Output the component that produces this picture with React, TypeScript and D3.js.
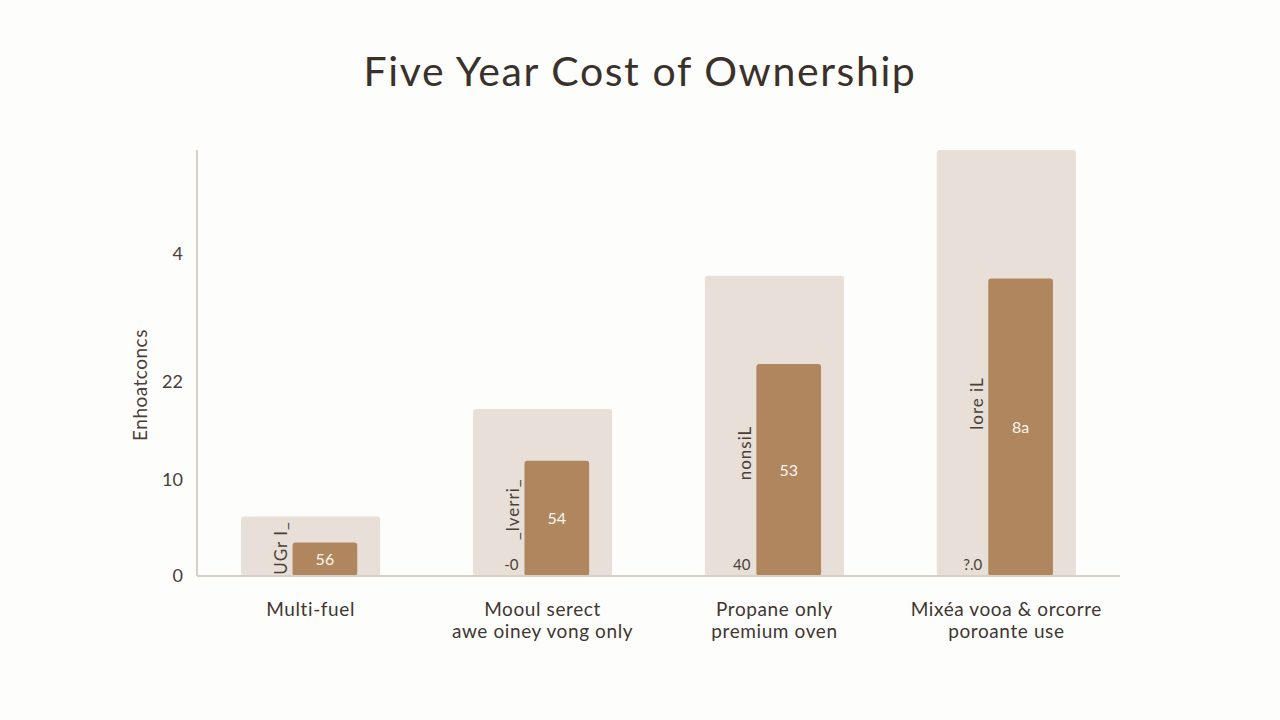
import { useEffect, useRef } from "react";
import * as d3 from "d3";

// categories (two label lines each)
const categories = ["Multi-fuel", "Mooul serect", "Propane only", "Mixéa vooa & orcorre"];
const categorySub = ["", "awe oiney vong only", "premium oven", "poroante use"];
// series values
const totalCost = [6.2, 17.4, 31.3, 44.4];
const upfrontCost = [3.5, 12.0, 22.1, 31.0];
const valueLabels = ["56", "54", "53", "8a"];
const sideLabels = ["UGr I_", "_lverri_", "nonsiL", "lore iL"];
const baseLabels = ["", "-0", "40", "?.0"];
// y ticks (positions and printed text)
const yTickValues = [0, 10, 20.2, 33.6];
const yTickLabels = ["0", "10", "22", "4"];

const W = 1280;
const H = 720;
const FONT = "Lato, 'Noto Sans', sans-serif";

export default function App() {
  const svgRef = useRef<SVGSVGElement>(null);

  useEffect(() => {
    const svgEl = svgRef.current;
    if (!svgEl) return;
    const svg = d3.select(svgEl);
    svg.selectAll("*").remove();

    const margin = { top: 150, right: 160, bottom: 144, left: 197 };
    const innerW = W - margin.left - margin.right;
    const innerH = H - margin.top - margin.bottom;

    svg.append("rect").attr("width", W).attr("height", H).attr("fill", "#fdfdfc");

    // title
    svg
      .append("text")
      .attr("x", W / 2)
      .attr("y", 86)
      .attr("text-anchor", "middle")
      .attr("font-family", FONT)
      .attr("font-size", 41)
      .attr("letter-spacing", 1.6)
      .attr("fill", "#3a312b")
      .text("Five Year Cost of Ownership");

    const g = svg.append("g").attr("transform", `translate(${margin.left},${margin.top})`);

    const x = d3
      .scaleBand<string>()
      .domain(categories)
      .range([0, innerW])
      .paddingInner(0.4)
      .paddingOuter(0.19);
    const y = d3.scaleLinear().domain([0, 44.4]).range([innerH, 0]);

    // background (total) bars
    g.selectAll("rect.total")
      .data(categories)
      .join("rect")
      .attr("class", "total")
      .attr("x", (d) => x(d)!)
      .attr("y", (_, i) => y(totalCost[i]))
      .attr("width", x.bandwidth())
      .attr("height", (_, i) => y(0) - y(totalCost[i]))
      .attr("rx", 3)
      .attr("fill", "#e8e0d8");

    // foreground bars
    const fgX = (d: string) => x(d)! + x.bandwidth() * 0.37;
    const fgW = x.bandwidth() * 0.465;
    g.selectAll("rect.upfront")
      .data(categories)
      .join("rect")
      .attr("class", "upfront")
      .attr("x", fgX)
      .attr("y", (_, i) => y(upfrontCost[i]))
      .attr("width", fgW)
      .attr("height", (_, i) => y(0) - y(upfrontCost[i]))
      .attr("rx", 3)
      .attr("fill", "#b0865e");

    // value labels inside brown bars
    g.selectAll("text.val")
      .data(categories)
      .join("text")
      .attr("class", "val")
      .attr("x", (d) => fgX(d) + fgW / 2)
      .attr("y", (_, i) => y(upfrontCost[i] / 2))
      .attr("dy", "0.35em")
      .attr("text-anchor", "middle")
      .attr("font-family", FONT)
      .attr("font-size", 16)
      .attr("fill", "#fbf6f0")
      .text((_, i) => valueLabels[i]);

    // rotated labels beside brown bars
    g.selectAll("text.side")
      .data(categories)
      .join("text")
      .attr("class", "side")
      .attr("transform", (d, i) => {
        const cy = Math.min(y(upfrontCost[i] * 0.58), y(0) - 28);
        return `translate(${fgX(d) - 11},${cy}) rotate(-90)`;
      })
      .attr("dy", "0.35em")
      .attr("text-anchor", "middle")
      .attr("font-family", FONT)
      .attr("font-size", 17)
      .attr("letter-spacing", 1)
      .attr("fill", "#4a4038")
      .text((_, i) => sideLabels[i]);

    // small labels at base of bars
    g.selectAll("text.base")
      .data(categories)
      .join("text")
      .attr("class", "base")
      .attr("x", (d) => fgX(d) - 6)
      .attr("y", y(0) - 6)
      .attr("text-anchor", "end")
      .attr("font-family", FONT)
      .attr("font-size", 15)
      .attr("fill", "#4a4038")
      .text((_, i) => baseLabels[i]);

    // axes lines
    g.append("line")
      .attr("x1", 0)
      .attr("x2", 0)
      .attr("y1", 0)
      .attr("y2", innerH)
      .attr("stroke", "#d8d0c4")
      .attr("stroke-width", 2);
    g.append("line")
      .attr("x1", 0)
      .attr("x2", innerW)
      .attr("y1", innerH)
      .attr("y2", innerH)
      .attr("stroke", "#d8d0c4")
      .attr("stroke-width", 2);

    // y axis ticks
    const yAxis = g
      .append("g")
      .call(
        d3
          .axisLeft(y)
          .tickValues(yTickValues)
          .tickSize(0)
          .tickPadding(14)
          .tickFormat((_, i) => yTickLabels[i])
      );
    yAxis.select(".domain").remove();
    yAxis
      .selectAll("text")
      .attr("font-family", FONT)
      .attr("font-size", 18)
      .attr("fill", "#4a4038");

    // y axis title
    svg
      .append("text")
      .attr("transform", `translate(147,385) rotate(-90)`)
      .attr("text-anchor", "middle")
      .attr("font-family", FONT)
      .attr("font-size", 19)
      .attr("letter-spacing", 0.5)
      .attr("fill", "#4a4038")
      .text("Enhoatconcs");

    // category labels
    const catG = g
      .selectAll("g.cat")
      .data(categories)
      .join("g")
      .attr("class", "cat")
      .attr("transform", (d) => `translate(${x(d)! + x.bandwidth() / 2},${innerH})`);
    catG
      .append("text")
      .attr("y", 40)
      .attr("text-anchor", "middle")
      .attr("font-family", FONT)
      .attr("font-size", 19)
      .attr("letter-spacing", 0.6)
      .attr("fill", "#3f3630")
      .text((d) => d);
    catG
      .append("text")
      .attr("y", 62)
      .attr("text-anchor", "middle")
      .attr("font-family", FONT)
      .attr("font-size", 19)
      .attr("letter-spacing", 0.6)
      .attr("fill", "#3f3630")
      .text((_, i) => categorySub[i]);
  }, []);

  return (
    <div style={{ position: "fixed", left: 0, top: 0, width: W, height: H }}>
      <svg ref={svgRef} width={W} height={H} style={{ display: "block" }} />
    </div>
  );
}
